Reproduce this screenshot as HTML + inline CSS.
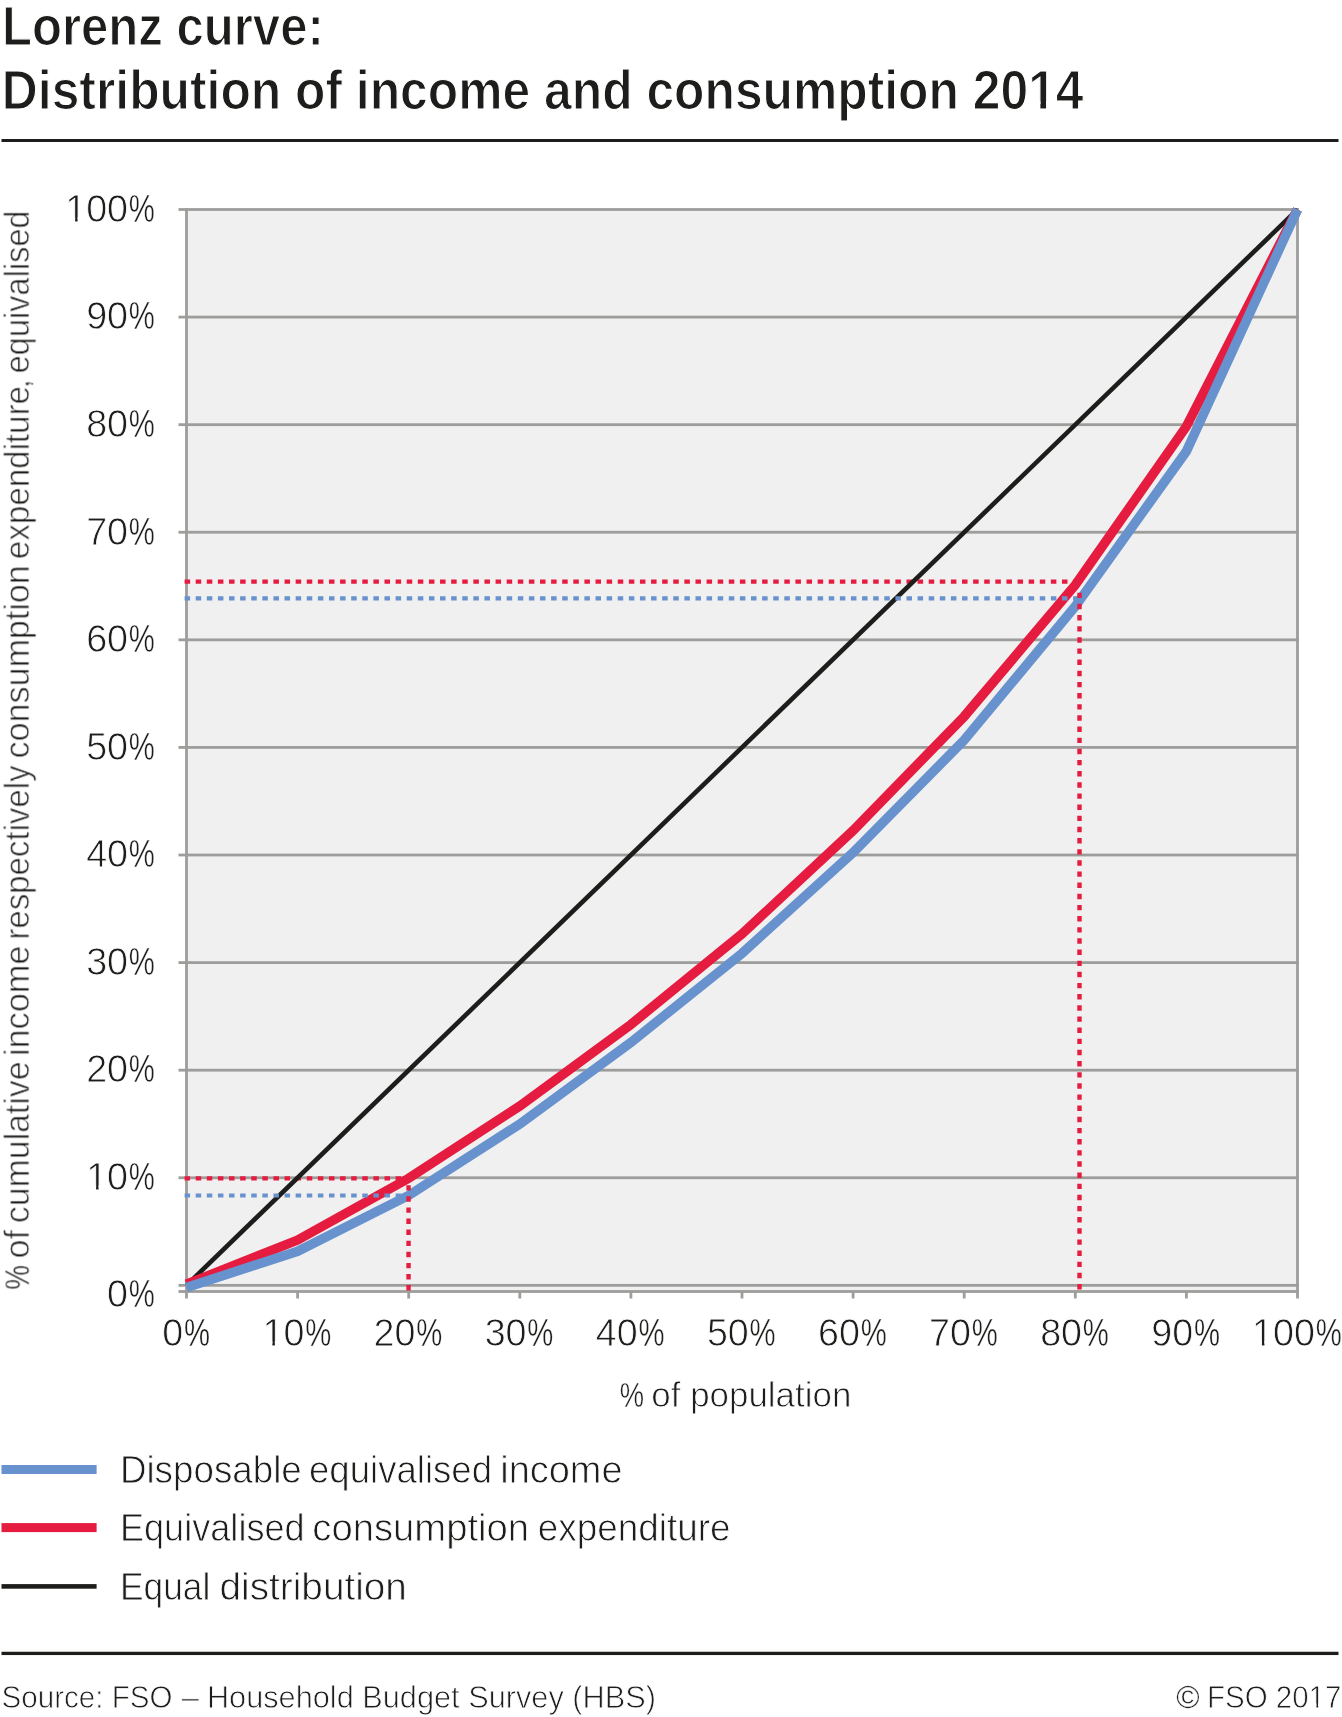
<!DOCTYPE html>
<html lang="en"><head><meta charset="utf-8"><title>Lorenz curve: Distribution of income and consumption 2014</title>
<style>
html,body{margin:0;padding:0;background:#fff;}
body{width:1342px;height:1717px;overflow:hidden;font-family:"Liberation Sans",sans-serif;}
svg{display:block;will-change:transform;}
text{font-family:"Liberation Sans",sans-serif;}
.lt{fill:#1d1d1b;stroke:#fff;stroke-width:0.80px;}
.tt{fill:#1d1d1b;stroke:#fff;stroke-width:1.20px;font-weight:bold;}
.lp{fill:#1d1d1b;stroke:#fff;stroke-width:0.45px;}
.lc{fill:#1d1d1b;stroke:#fff;stroke-width:0.3px;}
</style></head><body>
<svg width="1342" height="1717" viewBox="0 0 1342 1717">
<rect width="1342" height="1717" fill="#fff"/>
<g opacity="0.999">
<text class="tt" x="1.92" y="44.90" font-size="56.3" textLength="321.91" lengthAdjust="spacingAndGlyphs">Lorenz curve:</text>
<text class="tt" x="1.87" y="108.70" font-size="56.3" textLength="1081.70" lengthAdjust="spacingAndGlyphs">Distribution of income and consumption 2014</text>
</g>
<rect x="1.5" y="139" width="1337" height="3" fill="#1d1d1b"/>
<rect x="186.5" y="209.5" width="1111.0" height="1082.0" fill="#f0f0f0"/>
<rect x="178.5" y="1283.95" width="1120.4" height="2.8" fill="#9d9d9c"/>
<rect x="178.5" y="1176.36" width="1120.4" height="2.8" fill="#9d9d9c"/>
<rect x="178.5" y="1068.78" width="1120.4" height="2.8" fill="#9d9d9c"/>
<rect x="178.5" y="961.20" width="1120.4" height="2.8" fill="#9d9d9c"/>
<rect x="178.5" y="853.61" width="1120.4" height="2.8" fill="#9d9d9c"/>
<rect x="178.5" y="746.02" width="1120.4" height="2.8" fill="#9d9d9c"/>
<rect x="178.5" y="638.44" width="1120.4" height="2.8" fill="#9d9d9c"/>
<rect x="178.5" y="530.85" width="1120.4" height="2.8" fill="#9d9d9c"/>
<rect x="178.5" y="423.27" width="1120.4" height="2.8" fill="#9d9d9c"/>
<rect x="178.5" y="315.69" width="1120.4" height="2.8" fill="#9d9d9c"/>
<rect x="178.5" y="208.10" width="1120.4" height="2.8" fill="#9d9d9c"/>
<rect x="178.5" y="1290.10" width="1120.4" height="2.8" fill="#9d9d9c"/>
<rect x="185.10" y="208.10" width="2.8" height="1090.40" fill="#9d9d9c"/>
<rect x="1296.10" y="208.10" width="2.8" height="1090.40" fill="#9d9d9c"/>
<rect x="296.20" y="1291.50" width="2.8" height="7.00" fill="#9d9d9c"/>
<rect x="407.30" y="1291.50" width="2.8" height="7.00" fill="#9d9d9c"/>
<rect x="518.40" y="1291.50" width="2.8" height="7.00" fill="#9d9d9c"/>
<rect x="629.50" y="1291.50" width="2.8" height="7.00" fill="#9d9d9c"/>
<rect x="740.60" y="1291.50" width="2.8" height="7.00" fill="#9d9d9c"/>
<rect x="851.70" y="1291.50" width="2.8" height="7.00" fill="#9d9d9c"/>
<rect x="962.80" y="1291.50" width="2.8" height="7.00" fill="#9d9d9c"/>
<rect x="1073.90" y="1291.50" width="2.8" height="7.00" fill="#9d9d9c"/>
<rect x="1185.00" y="1291.50" width="2.8" height="7.00" fill="#9d9d9c"/>
<line x1="184.6" y1="1178.40" x2="408.50" y2="1178.40" stroke="#e61b40" stroke-width="4.2" stroke-dasharray="5.5 5.606"/>
<line x1="184.6" y1="581.60" x2="1079.50" y2="581.60" stroke="#e61b40" stroke-width="4.2" stroke-dasharray="5.5 5.606"/>
<line x1="186.50" y1="1285.35" x2="1297.50" y2="209.50" stroke="#1d1d1b" stroke-width="4.6"/>
<polyline points="186.50,1284.27 297.60,1240.06 408.70,1178.30 519.80,1106.01 630.90,1024.46 742.00,933.98 853.10,830.59 964.20,716.44 1075.30,584.97 1186.40,426.39 1297.50,209.50" fill="none" stroke="#e61b40" stroke-width="9.5" stroke-linejoin="miter"/>
<line x1="184.6" y1="1195.50" x2="408.50" y2="1195.50" stroke="#6892cd" stroke-width="4.2" stroke-dasharray="5.5 5.606"/>
<line x1="184.6" y1="598.30" x2="1079.50" y2="598.30" stroke="#6892cd" stroke-width="4.2" stroke-dasharray="5.5 5.606"/>
<polyline points="186.50,1287.50 297.60,1251.25 408.70,1195.41 519.80,1123.97 630.90,1042.42 742.00,953.34 853.10,852.64 964.20,740.11 1075.30,606.27 1186.40,451.24 1297.50,209.50" fill="none" stroke="#6892cd" stroke-width="9.5" stroke-linejoin="miter"/>
<line x1="408.55" y1="1185.2" x2="408.55" y2="1290.6" stroke="#e61b40" stroke-width="4.4" stroke-dasharray="5.4 5.7"/>
<line x1="1079.5" y1="1289.4" x2="1079.5" y2="588" stroke="#e61b40" stroke-width="4.4" stroke-dasharray="5.4 5.75"/>
<g opacity="0.999">
<text class="lt" x="65.23" y="221.80" font-size="38.5" textLength="62.84" lengthAdjust="spacingAndGlyphs">100</text>
<text class="lp" x="128.83" y="221.80" font-size="38.5" textLength="26.04" lengthAdjust="spacingAndGlyphs">%</text>
<text class="lt" x="86.18" y="329.39" font-size="38.5" textLength="41.89" lengthAdjust="spacingAndGlyphs">90</text>
<text class="lp" x="128.83" y="329.39" font-size="38.5" textLength="26.04" lengthAdjust="spacingAndGlyphs">%</text>
<text class="lt" x="86.18" y="436.97" font-size="38.5" textLength="41.89" lengthAdjust="spacingAndGlyphs">80</text>
<text class="lp" x="128.83" y="436.97" font-size="38.5" textLength="26.04" lengthAdjust="spacingAndGlyphs">%</text>
<text class="lt" x="86.18" y="544.55" font-size="38.5" textLength="41.89" lengthAdjust="spacingAndGlyphs">70</text>
<text class="lp" x="128.83" y="544.55" font-size="38.5" textLength="26.04" lengthAdjust="spacingAndGlyphs">%</text>
<text class="lt" x="86.18" y="652.14" font-size="38.5" textLength="41.89" lengthAdjust="spacingAndGlyphs">60</text>
<text class="lp" x="128.83" y="652.14" font-size="38.5" textLength="26.04" lengthAdjust="spacingAndGlyphs">%</text>
<text class="lt" x="86.18" y="759.72" font-size="38.5" textLength="41.89" lengthAdjust="spacingAndGlyphs">50</text>
<text class="lp" x="128.83" y="759.72" font-size="38.5" textLength="26.04" lengthAdjust="spacingAndGlyphs">%</text>
<text class="lt" x="86.18" y="867.31" font-size="38.5" textLength="41.89" lengthAdjust="spacingAndGlyphs">40</text>
<text class="lp" x="128.83" y="867.31" font-size="38.5" textLength="26.04" lengthAdjust="spacingAndGlyphs">%</text>
<text class="lt" x="86.18" y="974.89" font-size="38.5" textLength="41.89" lengthAdjust="spacingAndGlyphs">30</text>
<text class="lp" x="128.83" y="974.89" font-size="38.5" textLength="26.04" lengthAdjust="spacingAndGlyphs">%</text>
<text class="lt" x="86.18" y="1082.48" font-size="38.5" textLength="41.89" lengthAdjust="spacingAndGlyphs">20</text>
<text class="lp" x="128.83" y="1082.48" font-size="38.5" textLength="26.04" lengthAdjust="spacingAndGlyphs">%</text>
<text class="lt" x="86.18" y="1190.06" font-size="38.5" textLength="41.89" lengthAdjust="spacingAndGlyphs">10</text>
<text class="lp" x="128.83" y="1190.06" font-size="38.5" textLength="26.04" lengthAdjust="spacingAndGlyphs">%</text>
<text class="lt" x="107.12" y="1306.80" font-size="38.5" textLength="20.95" lengthAdjust="spacingAndGlyphs">0</text>
<text class="lp" x="128.83" y="1306.80" font-size="38.5" textLength="26.04" lengthAdjust="spacingAndGlyphs">%</text>
<text class="lt" x="162.32" y="1345.80" font-size="38.5" textLength="20.95" lengthAdjust="spacingAndGlyphs">0</text>
<text class="lp" x="184.03" y="1345.80" font-size="38.5" textLength="26.04" lengthAdjust="spacingAndGlyphs">%</text>
<text class="lt" x="262.48" y="1345.80" font-size="38.5" textLength="41.89" lengthAdjust="spacingAndGlyphs">10</text>
<text class="lp" x="305.13" y="1345.80" font-size="38.5" textLength="26.04" lengthAdjust="spacingAndGlyphs">%</text>
<text class="lt" x="373.58" y="1345.80" font-size="38.5" textLength="41.89" lengthAdjust="spacingAndGlyphs">20</text>
<text class="lp" x="416.23" y="1345.80" font-size="38.5" textLength="26.04" lengthAdjust="spacingAndGlyphs">%</text>
<text class="lt" x="484.68" y="1345.80" font-size="38.5" textLength="41.89" lengthAdjust="spacingAndGlyphs">30</text>
<text class="lp" x="527.33" y="1345.80" font-size="38.5" textLength="26.04" lengthAdjust="spacingAndGlyphs">%</text>
<text class="lt" x="595.78" y="1345.80" font-size="38.5" textLength="41.89" lengthAdjust="spacingAndGlyphs">40</text>
<text class="lp" x="638.43" y="1345.80" font-size="38.5" textLength="26.04" lengthAdjust="spacingAndGlyphs">%</text>
<text class="lt" x="706.88" y="1345.80" font-size="38.5" textLength="41.89" lengthAdjust="spacingAndGlyphs">50</text>
<text class="lp" x="749.53" y="1345.80" font-size="38.5" textLength="26.04" lengthAdjust="spacingAndGlyphs">%</text>
<text class="lt" x="817.98" y="1345.80" font-size="38.5" textLength="41.89" lengthAdjust="spacingAndGlyphs">60</text>
<text class="lp" x="860.63" y="1345.80" font-size="38.5" textLength="26.04" lengthAdjust="spacingAndGlyphs">%</text>
<text class="lt" x="929.08" y="1345.80" font-size="38.5" textLength="41.89" lengthAdjust="spacingAndGlyphs">70</text>
<text class="lp" x="971.73" y="1345.80" font-size="38.5" textLength="26.04" lengthAdjust="spacingAndGlyphs">%</text>
<text class="lt" x="1040.18" y="1345.80" font-size="38.5" textLength="41.89" lengthAdjust="spacingAndGlyphs">80</text>
<text class="lp" x="1082.83" y="1345.80" font-size="38.5" textLength="26.04" lengthAdjust="spacingAndGlyphs">%</text>
<text class="lt" x="1151.28" y="1345.80" font-size="38.5" textLength="41.89" lengthAdjust="spacingAndGlyphs">90</text>
<text class="lp" x="1193.93" y="1345.80" font-size="38.5" textLength="26.04" lengthAdjust="spacingAndGlyphs">%</text>
<text class="lt" x="1252.03" y="1345.80" font-size="38.5" textLength="62.84" lengthAdjust="spacingAndGlyphs">100</text>
<text class="lp" x="1315.63" y="1345.80" font-size="38.5" textLength="26.04" lengthAdjust="spacingAndGlyphs">%</text>
<text class="lp" x="619.70" y="1407.30" font-size="35.6" textLength="24.30" lengthAdjust="spacingAndGlyphs">%</text>
<text class="lt" x="651.33" y="1407.30" font-size="35.6" textLength="200.04" lengthAdjust="spacingAndGlyphs">of population</text>
<g transform="translate(29.2 1288.4) rotate(-90)">
<text class="lp" x="-1.21" y="0.00" font-size="35.6" textLength="24.52" lengthAdjust="spacingAndGlyphs">%</text>
<text class="lt" x="30.08" y="0.00" font-size="35.6" textLength="28.27" lengthAdjust="spacingAndGlyphs">of</text>
<text class="lt" x="65.36" y="0.00" font-size="35.6" textLength="161.64" lengthAdjust="spacingAndGlyphs">cumulative</text>
<text class="lt" x="232.41" y="0.00" font-size="35.6" textLength="110.52" lengthAdjust="spacingAndGlyphs">income</text>
<text class="lt" x="348.81" y="0.00" font-size="35.6" textLength="174.16" lengthAdjust="spacingAndGlyphs">respectively</text>
<text class="lt" x="530.05" y="0.00" font-size="35.6" textLength="193.06" lengthAdjust="spacingAndGlyphs">consumption</text>
<text class="lt" x="729.29" y="0.00" font-size="35.6" textLength="173.18" lengthAdjust="spacingAndGlyphs">expenditure</text>
<text class="lt" x="899.97" y="0.00" font-size="35.6" textLength="9.06" lengthAdjust="spacingAndGlyphs">,</text>
<text class="lt" x="914.91" y="0.00" font-size="35.6" textLength="163.09" lengthAdjust="spacingAndGlyphs">equivalised</text>
</g>
</g>
<rect x="1.5" y="1465" width="95.1" height="9" fill="#6892cd"/>
<rect x="1.5" y="1523.1" width="95.1" height="9" fill="#e61b40"/>
<rect x="1.5" y="1584.1" width="95.1" height="4.6" fill="#1d1d1b"/>
<g opacity="0.999">
<text class="lt" x="119.88" y="1482.50" font-size="38.0" textLength="181.95" lengthAdjust="spacingAndGlyphs">Disposable</text>
<text class="lt" x="308.95" y="1482.50" font-size="38.0" textLength="183.11" lengthAdjust="spacingAndGlyphs">equivalised</text>
<text class="lt" x="500.26" y="1482.50" font-size="38.0" textLength="122.22" lengthAdjust="spacingAndGlyphs">income</text>
<text class="lt" x="119.94" y="1540.60" font-size="38.0" textLength="184.69" lengthAdjust="spacingAndGlyphs">Equivalised</text>
<text class="lt" x="312.38" y="1540.60" font-size="38.0" textLength="216.71" lengthAdjust="spacingAndGlyphs">consumption</text>
<text class="lt" x="537.83" y="1540.60" font-size="38.0" textLength="192.70" lengthAdjust="spacingAndGlyphs">expenditure</text>
<text class="lt" x="120.00" y="1599.50" font-size="38.0" textLength="90.36" lengthAdjust="spacingAndGlyphs">Equal</text>
<text class="lt" x="219.57" y="1599.50" font-size="38.0" textLength="187.34" lengthAdjust="spacingAndGlyphs">distribution</text>
</g>
<rect x="1.5" y="1651.75" width="1337" height="3.3" fill="#1d1d1b"/>
<g opacity="0.999">
<text class="lt" x="1.56" y="1707.50" font-size="31.8" textLength="170.86" lengthAdjust="spacingAndGlyphs">Source: FSO</text>
<text class="lt" x="181.60" y="1707.50" font-size="31.8" textLength="17.52" lengthAdjust="spacingAndGlyphs">–</text>
<text class="lt" x="206.88" y="1707.50" font-size="31.8" textLength="449.02" lengthAdjust="spacingAndGlyphs">Household Budget Survey (HBS)</text>
<text class="lc" x="1176.37" y="1707.50" font-size="31.8" textLength="23.38" lengthAdjust="spacingAndGlyphs">©</text>
<text class="lt" x="1206.98" y="1707.50" font-size="31.8" textLength="134.40" lengthAdjust="spacingAndGlyphs">FSO 2017</text>
</g>
<rect x="1030.31" y="101.35" width="10.09" height="8.55" fill="#fff"/>
<rect x="1046.03" y="101.35" width="9.46" height="8.55" fill="#fff"/>
<rect x="67.10" y="217.32" width="8.00" height="5.68" fill="#fff"/>
<rect x="77.63" y="217.32" width="7.71" height="5.68" fill="#fff"/>
<rect x="88.05" y="1185.58" width="8.00" height="5.68" fill="#fff"/>
<rect x="98.58" y="1185.58" width="7.71" height="5.68" fill="#fff"/>
<rect x="264.35" y="1341.32" width="8.00" height="5.68" fill="#fff"/>
<rect x="274.88" y="1341.32" width="7.71" height="5.68" fill="#fff"/>
<rect x="1253.90" y="1341.32" width="8.00" height="5.68" fill="#fff"/>
<rect x="1264.43" y="1341.32" width="7.71" height="5.68" fill="#fff"/>
<rect x="1309.82" y="1703.52" width="6.57" height="5.18" fill="#fff"/>
<rect x="1318.20" y="1703.52" width="6.34" height="5.18" fill="#fff"/>
</svg>
</body></html>
